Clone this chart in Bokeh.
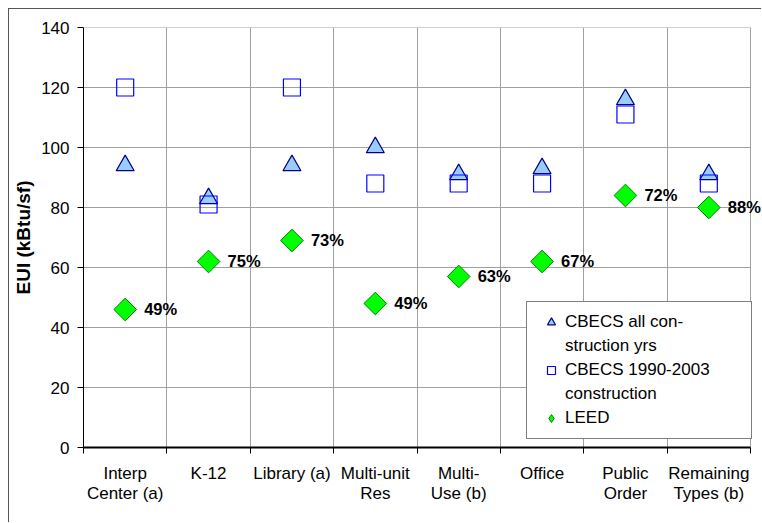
import math
from bokeh.plotting import figure
from bokeh.models import FixedTicker, Legend, LegendItem, ColumnDataSource, Label, Range1d
from bokeh.embed import file_html
from bokeh.resources import INLINE

categories = ["Interp\nCenter (a)", "K-12", "Library (a)", "Multi-unit\nRes",
              "Multi-\nUse (b)", "Office", "Public\nOrder", "Remaining\nTypes (b)"]
cbecs_all = [94, 83, 94, 100, 91, 93, 116, 91]
cbecs_1990_2003 = [120, 81, 120, 88, 88, 88, 111, 88]
leed = [46, 62, 69, 48, 57, 62, 84, 80]
leed_pct = ["49%", "75%", "73%", "49%", "63%", "67%", "72%", "88%"]
y_ticks = [0, 20, 40, 60, 80, 100, 120, 140]

FONT = "Liberation Sans"
n = len(categories)
xc = [i + 0.5 for i in range(n)]

src = ColumnDataSource(dict(x=xc, all=cbecs_all, recent=cbecs_1990_2003,
                            leed=leed, pct=leed_pct))

# frame spans 679 px; categories occupy the first 667 px (the rest is room for labels)
p = figure(width=753, height=514, x_range=Range1d(0, n * 679 / 667), y_range=(0, 140),
           output_backend="svg", toolbar_location=None,
           margin=(8, 0, 0, 8),
           min_border_left=74, min_border_right=0, min_border_top=18,
           min_border_bottom=76)
p.styles = {"border-left": "1px solid #555555", "border-top": "1px solid #555555"}
p.outline_line_color = None

# horizontal gridlines limited to the category area
p.segment(x0=0, x1=n, y0=y_ticks, y1=y_ticks, line_color="#a0a0a0", line_width=1,
          level="underlay")
p.ygrid.grid_line_color = None

# x axis: labels at centers, ticks at boundaries
p.xaxis.bounds = (0, n)
p.xaxis.ticker = FixedTicker(ticks=xc, minor_ticks=list(range(n + 1)))
p.xaxis.major_label_overrides = {x: c for x, c in zip(xc, categories)}
p.xaxis.major_tick_out = 0
p.xaxis.major_tick_in = 0
p.xaxis.minor_tick_out = 6
p.xaxis.minor_tick_in = 0
p.xaxis.minor_tick_line_color = "black"
p.xaxis.axis_line_color = "black"
p.xaxis.axis_line_width = 2
p.xaxis.major_label_standoff = 10
p.xaxis.major_label_text_font = FONT
p.xaxis.major_label_text_font_size = "17px"
p.xaxis.major_label_text_line_height = 1.1
p.xaxis.major_label_text_color = "black"
p.xgrid.grid_line_color = None
p.xgrid.minor_grid_line_color = "#a0a0a0"

# y axis
p.yaxis.ticker = FixedTicker(ticks=y_ticks, minor_ticks=[])
p.yaxis.major_tick_out = 6
p.yaxis.major_tick_in = 0
p.yaxis.major_tick_line_color = "black"
p.yaxis.axis_line_color = "black"
p.yaxis.major_label_standoff = 8
p.yaxis.major_label_text_font = FONT
p.yaxis.major_label_text_font_size = "17px"
p.yaxis.major_label_text_color = "black"
p.yaxis.axis_label = "EUI (kBtu/sf)"
p.yaxis.axis_label_text_font = FONT
p.yaxis.axis_label_text_font_style = "bold"
p.yaxis.axis_label_text_font_size = "19px"
p.yaxis.axis_label_text_color = "black"
p.yaxis.axis_label_standoff = 4

r1 = p.scatter("x", "all", source=src, marker="triangle", size=18,
               fill_color="#99ccff", line_color="#000080", line_width=1.2)
r2 = p.scatter("x", "recent", source=src, marker="square", size=17,
               fill_color=None, line_color="#0000ff", line_width=1.2)
# diamond (used for the legend swatch) lies fully under the rotated square
r3_leg = p.scatter("x", "leed", source=src, marker="diamond", size=21,
                   fill_color="#00ff00", line_color="#008000", line_width=1)
r3 = p.scatter("x", "leed", source=src, marker="square", size=16, angle=math.pi / 4,
               fill_color="#00ff00", line_color="#008000", line_width=1)
r_blank = p.scatter("x", "all", source=src, marker="square", size=1,
                    fill_alpha=0, line_alpha=0)

for xi, yi, t in zip(xc, leed, leed_pct):
    p.add_layout(Label(x=xi, y=yi, text=t, x_offset=19, y_offset=1,
                       text_baseline="middle", text_align="left",
                       text_font=FONT, text_font_style="bold",
                       text_font_size="16.5px", text_color="black"))

legend = Legend(items=[
    LegendItem(label="CBECS all con-", renderers=[r1]),
    LegendItem(label="struction yrs", renderers=[r_blank]),
    LegendItem(label="CBECS 1990-2003", renderers=[r2]),
    LegendItem(label="construction", renderers=[r_blank]),
    LegendItem(label="LEED", renderers=[r3_leg]),
], location=(443, 8))
legend.border_line_color = "black"
legend.border_line_width = 1
legend.background_fill_color = "white"
legend.background_fill_alpha = 1
legend.label_text_font = FONT
legend.label_text_font_size = "17px"
legend.label_text_color = "black"
legend.padding = 10
legend.spacing = 4
legend.glyph_width = 28
legend.glyph_height = 20
legend.label_height = 20
legend.label_standoff = 0
legend.label_width = 176
p.add_layout(legend)

open("out.html", "w").write(file_html(p, INLINE))
